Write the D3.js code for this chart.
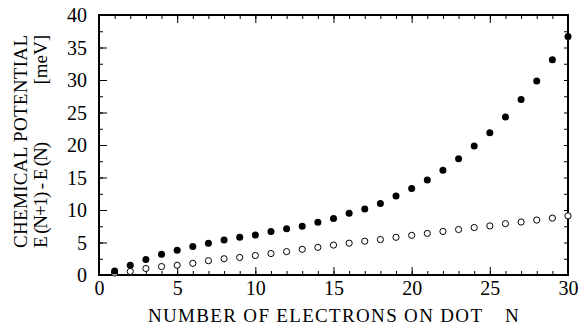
<!DOCTYPE html>
<html>
<head>
<meta charset="utf-8">
<script src="https://cdn.jsdelivr.net/npm/d3@7"></script>
<style>
  body { margin: 0; background: #fff; }
  svg text { font-family: "Liberation Serif", "DejaVu Serif", serif; fill: #000; }
</style>
</head>
<body>
<div id="chart"></div>
<script>
var svgWidth = 581;
var svgHeight = 325;

var margin = { top: 15, right: 13, bottom: 50, left: 99 };
var width = svgWidth - margin.left - margin.right;
var height = svgHeight - margin.top - margin.bottom;

// electron number N
var electrons = d3.range(1, 31);
// filled dots: chemical potential E(N+1) - E(N) [meV]
var filledValues = [0.6, 1.5, 2.4, 3.2, 3.8, 4.4, 4.9, 5.4, 5.8, 6.15,
                    6.7, 7.1, 7.5, 8.1, 8.7, 9.5, 10.15, 11.0, 12.15, 13.3,
                    14.6, 16.1, 17.9, 19.85, 21.9, 24.3, 27.0, 29.85, 33.1, 36.7];
// open circles
var openValues = [0.3, 0.55, 1.0, 1.3, 1.5, 1.8, 2.2, 2.5, 2.7, 3.0,
                  3.3, 3.6, 3.95, 4.25, 4.6, 4.9, 5.2, 5.45, 5.8, 6.1,
                  6.4, 6.7, 7.0, 7.3, 7.55, 7.9, 8.15, 8.45, 8.75, 9.1];
var xTickLabels = [0, 5, 10, 15, 20, 25, 30];
var yTickLabels = [0, 5, 10, 15, 20, 25, 30, 35, 40];

var serif = '"Liberation Serif", "DejaVu Serif", serif';

var svg = d3.select("#chart")
    .append("svg")
    .attr("width", svgWidth)
    .attr("height", svgHeight);

var chartGroup = svg.append("g")
    .attr("transform", `translate(${margin.left}, ${margin.top})`);

var xLinearScale = d3.scaleLinear().domain([0, 30]).range([0, width]);
var yLinearScale = d3.scaleLinear().domain([0, 40]).range([height, 0]);

// minor ticks (inward, all four sides)
var xMinor = d3.range(0, 31, 1);
var yMinor = d3.range(0, 40.1, 2.5);

function tickAxis(axis, scale, values, size) {
    return axis(scale).tickValues(values).tickSize(size).tickFormat("");
}

chartGroup.append("g")
    .attr("transform", `translate(0, ${height})`)
    .call(tickAxis(d3.axisTop, xLinearScale, xMinor, 4));
chartGroup.append("g")
    .attr("transform", `translate(0, ${height})`)
    .call(tickAxis(d3.axisTop, xLinearScale, xTickLabels, 8));
chartGroup.append("g")
    .call(tickAxis(d3.axisBottom, xLinearScale, xMinor, 4));
chartGroup.append("g")
    .call(tickAxis(d3.axisBottom, xLinearScale, xTickLabels, 8));
chartGroup.append("g")
    .call(tickAxis(d3.axisRight, yLinearScale, yMinor, 4));
chartGroup.append("g")
    .call(tickAxis(d3.axisRight, yLinearScale, yTickLabels, 8));
chartGroup.append("g")
    .attr("transform", `translate(${width}, 0)`)
    .call(tickAxis(d3.axisLeft, yLinearScale, yMinor, 4));

chartGroup.selectAll(".domain").remove();
chartGroup.selectAll(".tick line").attr("stroke", "#000").attr("stroke-width", 1);

// tick labels
var xLabels = chartGroup.append("g")
    .attr("transform", `translate(0, ${height})`)
    .call(d3.axisBottom(xLinearScale).tickValues(xTickLabels).tickSize(0).tickPadding(4));
xLabels.attr("font-family", serif).attr("font-size", 20);
xLabels.selectAll("text").attr("dy", "0.82em");
xLabels.select(".domain").remove();

var yLabels = chartGroup.append("g")
    .call(d3.axisLeft(yLinearScale).tickValues(yTickLabels).tickSize(0).tickPadding(12));
yLabels.attr("font-family", serif).attr("font-size", 20);
yLabels.selectAll("text").attr("dy", "0.34em");
yLabels.select(".domain").remove();

// frame
chartGroup.append("rect")
    .attr("x", 0).attr("y", 0)
    .attr("width", width).attr("height", height)
    .attr("fill", "none")
    .attr("stroke", "#000")
    .attr("stroke-width", 2);

// points
chartGroup.selectAll("circle.open")
    .data(electrons)
    .enter().append("circle")
    .attr("class", "open")
    .attr("cx", (d, i) => xLinearScale(d))
    .attr("cy", (d, i) => yLinearScale(openValues[i]))
    .attr("r", 3.1)
    .attr("fill", "#fff")
    .attr("stroke", "#000")
    .attr("stroke-width", 1);

chartGroup.selectAll("circle.filled")
    .data(electrons)
    .enter().append("circle")
    .attr("class", "filled")
    .attr("cx", (d, i) => xLinearScale(d))
    .attr("cy", (d, i) => yLinearScale(filledValues[i]))
    .attr("r", 3.5)
    .attr("fill", "#000");

// axis titles
svg.append("text")
    .attr("x", 148)
    .attr("y", 322)
    .attr("font-size", 19)
    .attr("textLength", 334)
    .attr("lengthAdjust", "spacing")
    .text("NUMBER OF ELECTRONS ON DOT");
svg.append("text")
    .attr("x", 505)
    .attr("y", 322)
    .attr("font-size", 19)
    .text("N");

var yTitle = svg.append("g")
    .attr("transform", "rotate(-90)");
yTitle.append("text")
    .attr("x", -248).attr("y", 27)
    .attr("font-size", 19)
    .attr("textLength", 213)
    .attr("lengthAdjust", "spacing")
    .text("CHEMICAL POTENTIAL");
yTitle.append("text")
    .attr("x", -248).attr("y", 47)
    .attr("font-size", 19)
    .attr("textLength", 106)
    .attr("lengthAdjust", "spacing")
    .text("E (N+1) - E (N)");
yTitle.append("text")
    .attr("x", -35).attr("y", 47)
    .attr("text-anchor", "end")
    .attr("font-size", 19)
    .text("[meV]");
</script>
</body>
</html>
